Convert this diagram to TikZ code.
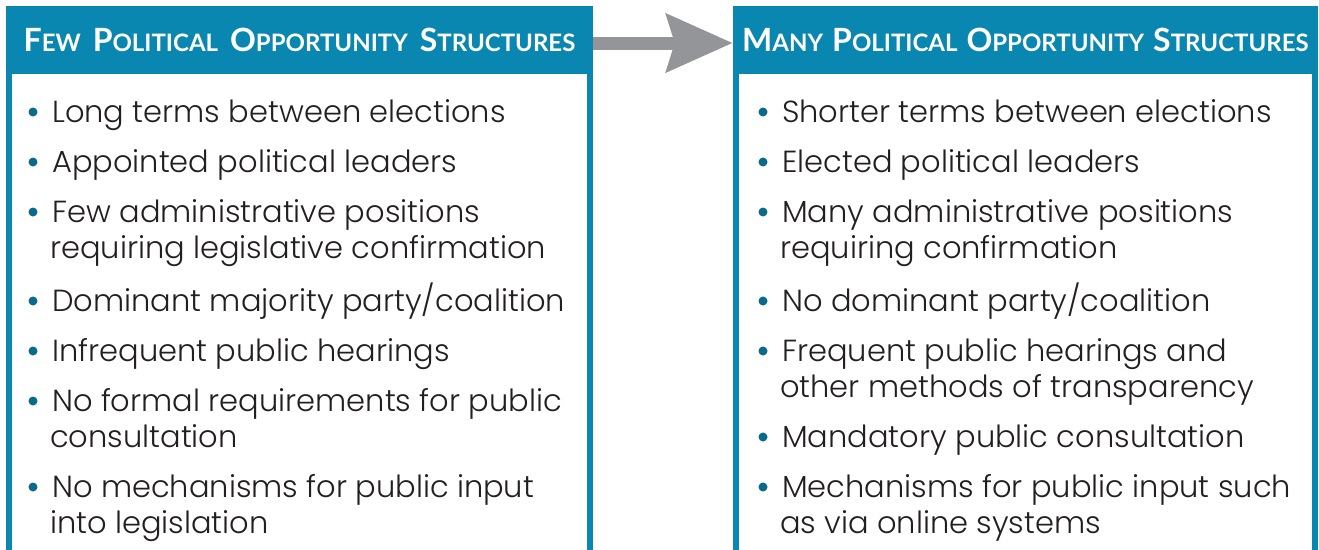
\documentclass[tikz,border=0pt]{standalone}
\usepackage{fontspec}
\usepackage{xcolor}
\usetikzlibrary{arrows.meta}
\IfFontExistsTF{Poppins Light}{\setmainfont{Poppins Light}}{\setmainfont{Poppins}}
\newfontfamily\hdfont{Lato}[BoldFont={Lato Bold}]
\definecolor{posblue}{HTML}{0A87B1}
\definecolor{posdot}{HTML}{0B6A8C}
\definecolor{postext}{HTML}{231F20}
\definecolor{posgray}{HTML}{939598}
\newcommand\capword[2]{{\fontsize{32}{32}\selectfont #1}{\fontsize{24}{24}\selectfont #2}}
\newcommand\hdsp[1][12pt]{\hspace{#1}}
\newcommand\twolines[2]{\vtop{\hbox{#1}\hbox{\kern-2pt#2}}}

\begin{document}
\begin{tikzpicture}[x=1pt,y=-1pt,
    hdr/.style={fill=posblue,text=white,inner sep=0,minimum width=587pt,minimum height=68pt,
                font=\hdfont\bfseries},
    item/.style={anchor=base west,inner sep=0,text=postext,
                 font=\fontsize{30.5}{36}\selectfont},
    side/.style={line width=6pt,draw=posblue}]
  \useasboundingbox (0,0) rectangle (1319,549);
  % headers
  \node[hdr] (hl) at (299.5,40) {\capword{F}{EW}\hdsp\capword{P}{OLITICAL}\hdsp\capword{O}{PPORTUNITY}\hdsp\capword{S}{TRUCTURES}};
  \node[hdr,minimum width=585pt] (hr) at (1025.5,40) {\capword{M}{ANY}\hdsp[9pt]\capword{P}{OLITICAL}\hdsp[9pt]\capword{O}{PPORTUNITY}\hdsp[9pt]\capword{S}{TRUCTURES}};
  % box sides
  \draw[side] ([xshift=3pt]hl.south west) -- ++(0,480);
  \draw[side] ([xshift=-3pt]hl.south east) -- ++(0,480);
  \draw[side] ([xshift=3pt]hr.south west) -- ++(0,480);
  \draw[side] ([xshift=-3pt]hr.south east) -- ++(0,480);
  % arrow
  \draw[posgray,line width=13pt,-{Stealth[length=66pt,width=57pt,inset=8pt]}]
    ([yshift=-3pt]hl.east) -- ([yshift=-3pt]hr.west);
  % left list
  \node[item] (l1) at (52,122) {Long terms between elections};
  \node[item] (l2) at (52,172) {Appointed political leaders};
  \node[item] (l3) at (52,222) {\twolines{Few administrative positions}{requiring legislative confirmation}};
  \node[item] (l4) at (52,311) {Dominant majority party/coalition};
  \node[item] (l5) at (52,361) {Infrequent public hearings};
  \node[item] (l6) at (52,411) {\twolines{No formal requirements for public}{consultation}};
  \node[item] (l7) at (52,497) {\twolines{No mechanisms for public input}{into legislation}};
  % right list
  \node[item] (r1) at (782,122) {Shorter terms between elections};
  \node[item] (r2) at (782,172) {Elected political leaders};
  \node[item] (r3) at (782,222) {\twolines{Many administrative positions}{requiring confirmation}};
  \node[item] (r4) at (782,311) {No dominant party/coalition};
  \node[item] (r5) at (782,361) {\twolines{Frequent public hearings and}{other methods of transparency}};
  \node[item] (r6) at (782,447) {Mandatory public consultation};
  \node[item] (r7) at (782,497) {\twolines{Mechanisms for public input such}{as via online systems}};
  % bullets
  \foreach \n in {l1,l2,l3,l4,l5,l6,l7,r1,r2,r3,r4,r5,r6,r7}
    \fill[posdot] ([xshift=-19pt,yshift=10pt]\n.base west) circle (4.5);
\end{tikzpicture}
\end{document}
